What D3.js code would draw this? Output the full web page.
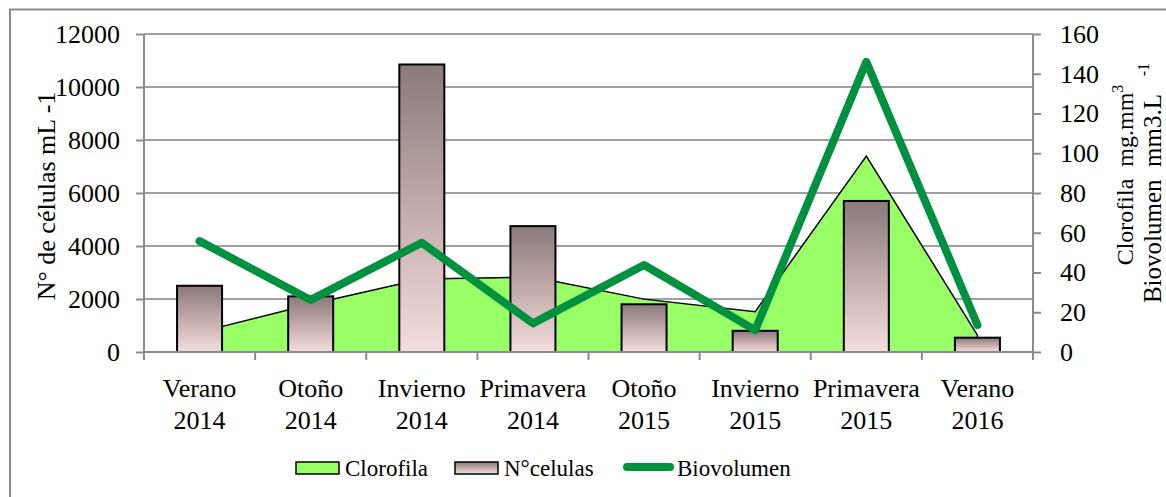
<!DOCTYPE html>
<html>
<head>
<meta charset="utf-8">
<script src="https://cdn.jsdelivr.net/npm/d3@7"></script>
<style>
  body { margin: 0; background: #fff; }
  svg text { font-family: "Liberation Serif", "Times New Roman", serif; fill: #000; }
</style>
</head>
<body>
<svg id="chart" width="1166" height="497" font-family="Liberation Serif, Times New Roman, serif"></svg>
<script>
// data
var seasons = ["Verano", "Otoño", "Invierno", "Primavera", "Otoño", "Invierno", "Primavera", "Verano"];
var years = ["2014", "2014", "2014", "2014", "2015", "2015", "2015", "2016"];
var celulas = [2500, 2100, 10850, 4750, 1800, 800, 5700, 540];
var clorofila = [10, 24, 36.7, 37.7, 26.6, 20.3, 98.6, 8.5];
var biovolumen = [55.8, 26.2, 55, 14.4, 43.8, 11, 146, 13.6];
var leftTicks = [0, 2000, 4000, 6000, 8000, 10000, 12000];
var rightTicks = [0, 20, 40, 60, 80, 100, 120, 140, 160];

var serif = "'Liberation Serif', 'Times New Roman', serif";
var svg = d3.select("#chart");
var margin = {top: 34, right: 133, bottom: 145, left: 144};
var width = 1166, height = 497;

var idx = d3.range(seasons.length);
var x = d3.scaleBand().domain(idx).range([margin.left, width - margin.right]).padding(0);
var yL = d3.scaleLinear().domain([0, 12000]).range([height - margin.bottom, margin.top]);
var yR = d3.scaleLinear().domain([0, 160]).range([height - margin.bottom, margin.top]);
var cx = function(i){ return x(i) + x.bandwidth()/2; };

//outer frame, cut off at right and bottom like the picture
svg.append("rect")
    .attr("x", 10).attr("y", 9.5)
    .attr("width", 1300).attr("height", 600)
    .attr("fill", "none").attr("stroke", "#8c8c8c").attr("stroke-width", 2);

// gradient for the bars
var grad = svg.append("defs").append("linearGradient")
    .attr("id", "barGrad").attr("x1", 0).attr("y1", 0).attr("x2", 0).attr("y2", 1);
grad.append("stop").attr("offset", "0%").attr("stop-color", "#8a7a7a");
grad.append("stop").attr("offset", "55%").attr("stop-color", "#c8b0af");
grad.append("stop").attr("offset", "100%").attr("stop-color", "#f3dedd");

// gridlines
svg.append("g").selectAll("line")
    .data(leftTicks.slice(1))
    .enter().append("line")
    .attr("x1", margin.left).attr("x2", width - margin.right)
    .attr("y1", function(d){ return yL(d); }).attr("y2", function(d){ return yL(d); })
    .attr("stroke", "#a0a0a0").attr("stroke-width", 2);

// clorofila area
var area = d3.area()
    .x(function(d, i){ return cx(i); })
    .y0(yR(0))
    .y1(function(d){ return yR(d); });
svg.append("path")
    .datum(clorofila)
    .attr("d", area)
    .attr("fill", "#99ff66")
    .attr("stroke", "#000").attr("stroke-width", 1.5);

// bars
var barW = x.bandwidth() * 0.405;
svg.append("g").selectAll("rect")
    .data(celulas)
    .enter().append("rect")
    .attr("x", function(d, i){ return cx(i) - barW/2; })
    .attr("y", function(d){ return yL(d); })
    .attr("width", barW)
    .attr("height", function(d){ return yL(0) - yL(d); })
    .attr("fill", "url(#barGrad)")
    .attr("stroke", "#000").attr("stroke-width", 2);

// biovolumen line
var line = d3.line()
    .x(function(d, i){ return cx(i); })
    .y(function(d){ return yR(d); });
svg.append("path")
    .datum(biovolumen)
    .attr("d", line)
    .attr("fill", "none")
    .attr("stroke", "#009140").attr("stroke-width", 8)
    .attr("stroke-linejoin", "round").attr("stroke-linecap", "round");

// axes
var axisColor = "#8c8c8c";
var gL = svg.append("g")
    .attr("transform", "translate(" + margin.left + ",0)")
    .call(d3.axisLeft(yL).tickValues(leftTicks).tickSize(8).tickPadding(16).tickFormat(d3.format("d")));
var gR = svg.append("g")
    .attr("transform", "translate(" + (width - margin.right) + ",0)")
    .call(d3.axisRight(yR).tickValues(rightTicks).tickSize(8).tickPadding(19));
var gX = svg.append("g")
    .attr("transform", "translate(0," + yL(0) + ")")
    .call(d3.axisBottom(x).tickSize(0).tickFormat(""));

[gL, gR, gX].forEach(function(g){
    g.attr("font-family", serif);
    g.select(".domain").attr("stroke", axisColor).attr("stroke-width", 2);
    g.selectAll(".tick line").attr("stroke", axisColor).attr("stroke-width", 2);
    g.selectAll(".tick text").style("font-size", "26px").attr("fill", "#000")
        .style("font-family", serif);
});
gL.select(".domain").attr("d", "M0," + yL(12000) + "V" + (yL(0) + 8));
gR.select(".domain").attr("d", "M0," + yR(160) + "V" + (yR(0) + 8));
gX.select(".domain").attr("d", "M" + margin.left + ",0H" + (width - margin.right));

// category tick marks at the band boundaries
svg.append("g").selectAll("line")
    .data(idx.slice(1))
    .enter().append("line")
    .attr("x1", function(i){ return x(i); }).attr("x2", function(i){ return x(i); })
    .attr("y1", yL(0)).attr("y2", yL(0) + 8)
    .attr("stroke", axisColor).attr("stroke-width", 2);

// category labels on two lines
var cat = svg.append("g").selectAll("text")
    .data(idx)
    .enter().append("text")
    .attr("text-anchor", "middle")
    .style("font-family", serif)
    .style("font-size", "26px");
cat.append("tspan")
    .attr("x", function(i){ return cx(i); }).attr("y", 397)
    .text(function(i){ return seasons[i]; });
cat.append("tspan")
    .attr("x", function(i){ return cx(i); }).attr("y", 429)
    .text(function(i){ return years[i]; });

// left title
svg.append("text")
    .attr("transform", "translate(55,196) rotate(-90)")
    .attr("text-anchor", "middle")
    .style("font-family", serif)
    .style("font-size", "26px")
    .text("N° de células mL -1");

// right title, two lines (spaces kept)
var rt1 = svg.append("text")
    .attr("transform", "translate(1133,175) rotate(-90)")
    .attr("text-anchor", "middle")
    .style("white-space", "pre")
    .style("font-family", serif)
    .style("font-size", "24px");
rt1.append("tspan").text("Clorofila  mg.mm");
rt1.append("tspan").attr("dy", -10).style("font-size", "16px").text("3");

var rt2 = svg.append("text")
    .attr("transform", "translate(1161,183) rotate(-90)")
    .attr("text-anchor", "middle")
    .style("white-space", "pre")
    .style("font-family", serif)
    .style("font-size", "25px");
rt2.append("tspan").text("Biovolumen  mm3.L   ");
rt2.append("tspan").attr("dy", -12).style("font-size", "16px").text("-1");

// legend
var legend = svg.append("g").style("font-family", serif);
legend.append("rect")
    .attr("x", 296).attr("y", 462).attr("width", 43).attr("height", 12)
    .attr("fill", "#99ff66").attr("stroke", "#000").attr("stroke-width", 1.5);
legend.append("text").attr("x", 345).attr("y", 476).style("font-size", "23px").text("Clorofila");
legend.append("rect")
    .attr("x", 455).attr("y", 462).attr("width", 43).attr("height", 12)
    .attr("fill", "url(#barGrad)").attr("stroke", "#000").attr("stroke-width", 1.5);
legend.append("text").attr("x", 504).attr("y", 476).style("font-size", "23px").text("N°celulas");
legend.append("line")
    .attr("x1", 627).attr("x2", 670).attr("y1", 467).attr("y2", 467)
    .attr("stroke", "#009140").attr("stroke-width", 8).attr("stroke-linecap", "round");
legend.append("text").attr("x", 677).attr("y", 476).style("font-size", "23px").text("Biovolumen");
</script>
</body>
</html>
